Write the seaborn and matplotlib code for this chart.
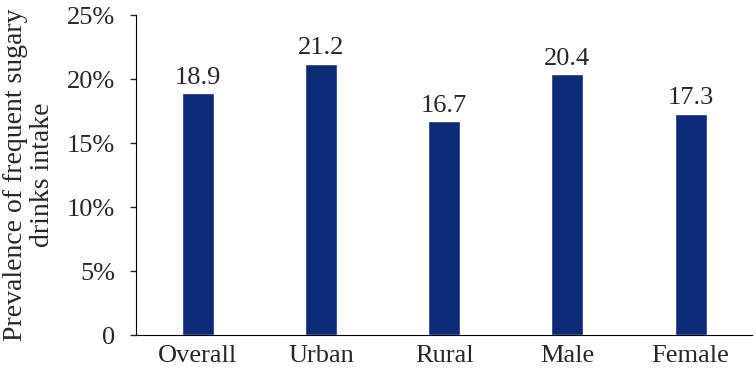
import pandas as pd
import matplotlib.pyplot as plt
import seaborn as sns
from matplotlib.ticker import FuncFormatter

groups = ['Overall', 'Urban', 'Rural', 'Male', 'Female']
prevalence = [18.9, 21.2, 16.7, 20.4, 17.3]

df = pd.DataFrame({'group': groups, 'prevalence': prevalence})

sns.set_style('white')
plt.rcParams['font.family'] = ['Liberation Serif', 'DejaVu Serif']

bar_colour = '#0c2a78'

fig = plt.figure(figsize=(7.56, 3.69), dpi=100)
ax = fig.add_axes([0.18, 0.092, 0.815, 0.867])
sns.barplot(data=df, x='group', y='prevalence', color=bar_colour,
            width=0.26, saturation=1, ax=ax)

for i, v in enumerate(prevalence):
    ax.text(i, v + 0.35, f'{v:.1f}', ha='center', va='bottom', fontsize=19)

ax.set_ylim(0, 25)
ax.set_yticks([0, 5, 10, 15, 20, 25])
ax.yaxis.set_major_formatter(FuncFormatter(lambda y, _: '0' if y == 0 else f'{y:.0f}%'))
ax.set_xlim(-0.5, 4.5)
ax.set_xlabel('')
ax.set_ylabel('Prevalence of frequent sugary\ndrinks intake', fontsize=20,
              linespacing=1.1)
ax.yaxis.set_label_coords(-0.132, 0.5)
ax.tick_params(axis='y', which='both', left=True, length=4, width=1, labelsize=19, pad=11)
ax.tick_params(axis='x', bottom=False, labelsize=19, pad=4)
sns.despine(ax=ax)
ax.spines['left'].set_color('black')
ax.spines['bottom'].set_color('black')

plt.savefig('out.png', dpi=100)
